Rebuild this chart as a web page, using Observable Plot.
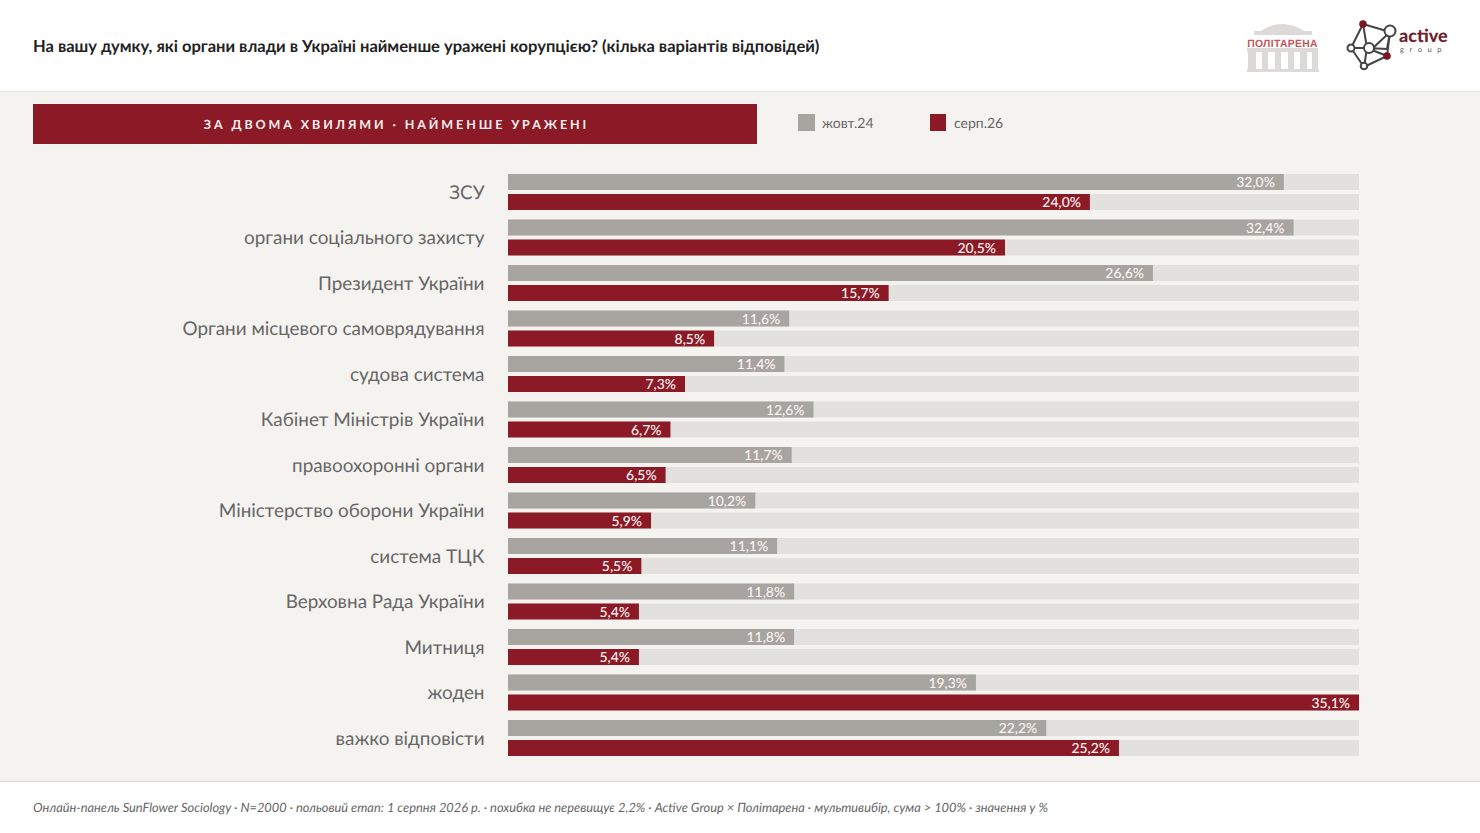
<!DOCTYPE html>
<html lang="uk">
<head>
<meta charset="utf-8">
<script src="https://cdn.jsdelivr.net/npm/d3@7"></script>
<script src="https://cdn.jsdelivr.net/npm/@observablehq/plot@0.6"></script>
<style>
html,body{margin:0;padding:0;background:#fff;}
body{width:1480px;height:833px;position:relative;overflow:hidden;font-family:Lato,"Noto Sans",sans-serif;text-rendering:geometricPrecision;}
.abs{position:absolute;white-space:nowrap;}
#panel{left:0;top:91px;width:1480px;height:691px;background:#f5f3f0;border-top:1px solid #e6e4df;border-bottom:1px solid #dcdad7;box-sizing:border-box;}
#title{left:33px;top:36px;font-size:16.5px;line-height:20px;font-weight:700;color:#222;}
#banner{left:33px;top:104px;width:724px;height:40px;background:#8b1a26;color:#f6eeee;font-size:12.5px;font-weight:700;letter-spacing:2.9px;line-height:41px;text-align:center;text-indent:3px;}
.sw{width:17px;height:17px;top:114px;}
.lg{top:113px;font-size:14px;line-height:19px;color:#666;}
#foot{left:33px;top:799px;font-size:12.82px;line-height:16px;font-style:italic;color:#666;}
#chart{left:0;top:151px;}
#chart svg{display:block;background:transparent;}
</style>
</head>
<body>
<div class="abs" id="panel"></div>
<div class="abs" id="title">На вашу думку, які органи влади в Україні найменше уражені корупцією? (кілька варіантів відповідей)</div>
<div class="abs" id="banner">ЗА ДВОМА ХВИЛЯМИ · НАЙМЕНШЕ УРАЖЕНІ</div>
<div class="abs sw" style="left:798px;background:#a8a4a0"></div>
<div class="abs lg" style="left:822px">жовт.24</div>
<div class="abs sw" style="left:930px;width:16px;background:#8b1a26"></div>
<div class="abs lg" style="left:954px">серп.26</div>
<div class="abs" id="chart"></div>
<div class="abs" id="foot">Онлайн-панель SunFlower Sociology · N=2000 · польовий етап: 1 серпня 2026 р. · похибка не перевищує 2,2% · Active Group × Політарена · мультивибір, сума &gt; 100% · значення у %</div>

<svg class="abs" style="left:1240px;top:18px" width="85" height="56" viewBox="0 0 85 56">
  <g fill="#dcdad8">
    <path d="M21 13 Q42 -1 64 13Z"/>
    <rect x="14" y="13" width="58" height="4"/>
    <rect x="7" y="30" width="71" height="4"/>
    <rect x="8" y="34" width="8" height="17"/><rect x="22" y="34" width="6" height="17"/><rect x="35" y="34" width="6" height="17"/><rect x="48" y="34" width="6" height="17"/><rect x="60" y="34" width="7" height="17"/><rect x="72" y="34" width="6" height="17"/>
    <rect x="7" y="51" width="72" height="3"/>
  </g>
  <text x="42.5" y="28.5" text-anchor="middle" font-family="Liberation Sans,Arial,sans-serif" font-size="10.4" font-weight="700" fill="#c2575c" letter-spacing="0.3">ПОЛІТАРЕНА</text>
</svg>
<svg class="abs" style="left:1340px;top:12px" width="125" height="64" viewBox="0 0 125 64">
  <g fill="none" stroke="#444" stroke-width="2">
    <path d="M23 12 L50 20 L47 37 L27 36 L11 36 L23 12 M23 12 L27 36 M50 20 L33 36 M47 44 L27 36 M47 44 L24 55 L11 36 M24 55 L27 36 M50 20 L47 44"/>
  </g>
  <circle cx="23" cy="12" r="3.8" fill="#7d1622"/>
  <circle cx="47" cy="44" r="3.8" fill="#7d1622"/>
  <circle cx="50" cy="19" r="5.5" fill="#fff" stroke="#444" stroke-width="2"/>
  <circle cx="29" cy="36" r="5" fill="#fff" stroke="#444" stroke-width="2"/>
  <circle cx="11" cy="36" r="3.5" fill="#fff" stroke="#444" stroke-width="2"/>
  <circle cx="24" cy="54" r="3.3" fill="#fff" stroke="#444" stroke-width="2"/>
  <text x="59" y="29.5" font-family="Lato,sans-serif" font-size="18" font-weight="900" fill="#6e2430">active</text>
  <text x="60" y="40" font-family="Lato,sans-serif" font-size="7.5" fill="#555" letter-spacing="5.6">group</text>
</svg>

<script>
const categories = ["ЗСУ","органи соціального захисту","Президент України","Органи місцевого самоврядування","судова система","Кабінет Міністрів України","правоохоронні органи","Міністерство оборони України","система ТЦК","Верховна Рада України","Митниця","жоден","важко відповісти"];
const waves = ["жовт.24","серп.26"];
const oct24 = [32.0,32.4,26.6,11.6,11.4,12.6,11.7,10.2,11.1,11.8,11.8,19.3,22.2];
const aug26 = [24.0,20.5,15.7,8.5,7.3,6.7,6.5,5.9,5.5,5.4,5.4,35.1,25.2];
const colors = ["#a8a4a0","#8b1a26"];
const trackMax = 35.1;

const rows = categories.flatMap((c,i)=>[
  {category:c,wave:waves[0],value:oct24[i]},
  {category:c,wave:waves[1],value:aug26[i]}
]);
const fmt = v => v.toFixed(1).replace(".",",")+"%";

const chart = Plot.plot({
  width:1480, height:630,
  marginLeft:508, marginRight:121, marginTop:18.25, marginBottom:20.25,
  style:{background:"transparent",fontFamily:'Lato,"Noto Sans",sans-serif',overflow:"visible"},
  x:{domain:[0,trackMax],axis:null},
  y:{domain:waves,axis:null,paddingInner:0.2,paddingOuter:0.2375,align:0.5,round:false},
  fy:{domain:categories,padding:0,label:null,round:false},
  color:{domain:waves,range:colors},
  marks:[
    Plot.axisFy({anchor:"left",tickSize:0,tickPadding:24,fontSize:18.9,label:null,color:"#666"}),
    Plot.barX(rows,{x1:0,x2:()=>trackMax,y:"wave",fy:"category",fill:"#e3e1de"}),
    Plot.barX(rows,{x:"value",y:"wave",fy:"category",fill:"wave"}),
    Plot.text(rows,{x:"value",y:"wave",fy:"category",text:d=>fmt(d.value),textAnchor:"end",dx:-9.5,dy:0.5,fill:"#fbf3f1",fontSize:13.9,fontWeight:500})
  ]
});
document.getElementById("chart").appendChild(chart);
</script>
</body>
</html>
